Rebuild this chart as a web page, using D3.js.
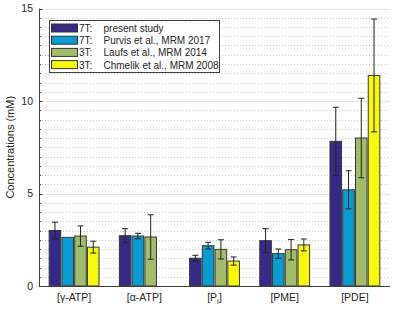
<!DOCTYPE html>
<html>
<head>
  <meta charset="utf-8">
  <script src="https://cdn.jsdelivr.net/npm/d3@7"></script>
  <style>
    body { margin: 0; background: #fff; }
    text { font-family: "Liberation Sans", Arial, sans-serif; fill: #262626; }
  </style>
</head>
<body>
<svg id="chart" width="400" height="311"></svg>
<script>
  var categories = ['[γ-ATP]', '[α-ATP]', '[P_i]', '[PME]', '[PDE]'];
  var seriesField = ['7T:', '7T:', '3T:', '3T:'];
  var seriesLabel = ['present study', 'Purvis et al., MRM 2017', 'Laufs et al., MRM 2014', 'Chmelik et al., MRM 2008'];
  var colors = ['#352a87', '#0a9bd0', '#a2bc6c', '#f8f80e'];

  // mean values per series (null = not reported)
  var present = [3.0, 2.72, 1.5, 2.45, 7.82];
  var purvis = [2.63, 2.7, 2.18, 1.75, 5.2];
  var laufs = [2.7, 2.65, 1.98, 1.96, 8.0];
  var chmelik = [2.1, null, 1.35, 2.22, 11.38];
  // standard deviations
  var presentSd = [0.45, 0.38, 0.16, 0.65, 1.84];
  var purvisSd = [0, 0.15, 0.18, 0.25, 1.03];
  var laufsSd = [0.55, 1.2, 0.52, 0.55, 2.15];
  var chmelikSd = [0.32, null, 0.22, 0.32, 3.05];

  var values = [present, purvis, laufs, chmelik];
  var sds = [presentSd, purvisSd, laufsSd, chmelikSd];
  var yTicks = [0, 5, 10, 15];

  var svg = d3.select('#chart'),
    margin = { left: 39, right: 10, top: 8.5, bottom: 25 },
    width = +svg.attr('width'),
    height = +svg.attr('height'),
    x0 = margin.left, x1 = width - margin.right,
    y0 = height - margin.bottom, y1 = margin.top;

  var x = d3.scaleLinear().domain([0.5, 5.5]).range([x0, x1]);
  var y = d3.scaleLinear().domain([0, 15]).range([y0, y1]);

  var n = values.length,
    groupWidth = 0.727,
    step = groupWidth / n,
    barW = 0.165;

  // grid
  var minor = d3.range(0.5, 15, 0.5).filter(v => v % 5 !== 0);
  svg.append('g').selectAll('line').data(minor).enter().append('line')
    .attr('x1', x0).attr('x2', x1)
    .attr('y1', d => Math.round(y(d)) + 0.5).attr('y2', d => Math.round(y(d)) + 0.5)
    .attr('stroke', '#c8c8c8').attr('stroke-width', 1)
    .attr('stroke-dasharray', '1,2');
  svg.append('g').selectAll('line').data(yTicks.filter(d => d > 0)).enter().append('line')
    .attr('x1', x0).attr('x2', x1)
    .attr('y1', d => Math.round(y(d)) + 0.5).attr('y2', d => Math.round(y(d)) + 0.5)
    .attr('stroke', '#e3e3e3').attr('stroke-width', 1);

  // bars
  values.forEach((vals, s) => {
    var off = -groupWidth / 2 + step * (s + 0.5);
    var g = svg.append('g');
    var data = vals.map((v, i) => ({ i: i + 1, v: v, sd: sds[s][i] })).filter(d => d.v != null);
    g.selectAll('rect').data(data).enter().append('rect')
      .attr('x', d => x(d.i + off - barW / 2))
      .attr('width', x(barW) - x(0))
      .attr('y', d => y(d.v))
      .attr('height', d => y0 - y(d.v))
      .attr('fill', colors[s])
      .attr('stroke', '#383838').attr('stroke-width', 1);

    var eb = g.selectAll('.eb').data(data.filter(d => d.sd > 0)).enter().append('g')
      .attr('stroke', '#222').attr('stroke-width', 1);
    eb.append('line')
      .attr('x1', d => x(d.i + off)).attr('x2', d => x(d.i + off))
      .attr('y1', d => y(d.v + d.sd)).attr('y2', d => y(d.v - d.sd));
    eb.append('line')
      .attr('x1', d => x(d.i + off) - 3).attr('x2', d => x(d.i + off) + 3)
      .attr('y1', d => y(d.v + d.sd)).attr('y2', d => y(d.v + d.sd));
    eb.append('line')
      .attr('x1', d => x(d.i + off) - 3).attr('x2', d => x(d.i + off) + 3)
      .attr('y1', d => y(d.v - d.sd)).attr('y2', d => y(d.v - d.sd));
  });

  // axes
  svg.append('line').attr('x1', x0 + 0.5).attr('x2', x0 + 0.5).attr('y1', y1).attr('y2', y0)
    .attr('stroke', '#404040');
  svg.append('line').attr('x1', x0).attr('x2', x1).attr('y1', y0 + 0.5).attr('y2', y0 + 0.5)
    .attr('stroke', '#404040');
  svg.append('g').selectAll('line').data(d3.range(0, 15.01, 0.5)).enter().append('line')
    .attr('x1', x0).attr('x2', d => x0 + (d % 5 === 0 ? 3.5 : 2))
    .attr('y1', d => Math.round(y(d)) + 0.5).attr('y2', d => Math.round(y(d)) + 0.5)
    .attr('stroke', '#404040');

  svg.append('g').selectAll('text').data(yTicks).enter().append('text')
    .attr('x', x0 - 6).attr('y', d => y(d) + 3.5)
    .attr('text-anchor', 'end').attr('font-size', 10.5)
    .text(d => d);

  var xt = svg.append('g').selectAll('text').data(categories).enter().append('text')
    .attr('x', (d, i) => x(i + 1)).attr('y', y0 + 15)
    .attr('text-anchor', 'middle').attr('font-size', 10.5);
  xt.each(function (d) {
    var t = d3.select(this);
    if (d.indexOf('_') > 0) {
      var parts = d.split('_');
      t.append('tspan').text(parts[0]);
      t.append('tspan').attr('font-size', 8).attr('dy', 3).text(parts[1][0]);
      t.append('tspan').attr('dy', -3).text(parts[1].slice(1));
    } else {
      t.text(d);
    }
  });

  svg.append('text')
    .attr('transform', 'translate(14,' + ((y0 + y1) / 2) + ') rotate(-90)')
    .attr('text-anchor', 'middle').attr('font-size', 11)
    .text('Concentrations (mM)');

  // legend
  var lg = svg.append('g').attr('transform', 'translate(49.5,20.5)');
  lg.append('rect').attr('width', 170).attr('height', 52)
    .attr('fill', '#fff').attr('stroke', '#404040').attr('stroke-width', 1);
  var item = lg.selectAll('.item').data(seriesLabel).enter().append('g')
    .attr('transform', (d, i) => 'translate(0,' + (3 + i * 12.2) + ')');
  item.append('rect').attr('x', 2).attr('y', 0.5).attr('width', 26).attr('height', 8)
    .attr('fill', (d, i) => colors[i]).attr('stroke', '#333');
  item.append('text').attr('x', 29.5).attr('y', 8.5).attr('font-size', 10)
    .text((d, i) => seriesField[i]);
  item.append('text').attr('x', 54).attr('y', 8.5).attr('font-size', 10)
    .text(d => d);
</script>
</body>
</html>
